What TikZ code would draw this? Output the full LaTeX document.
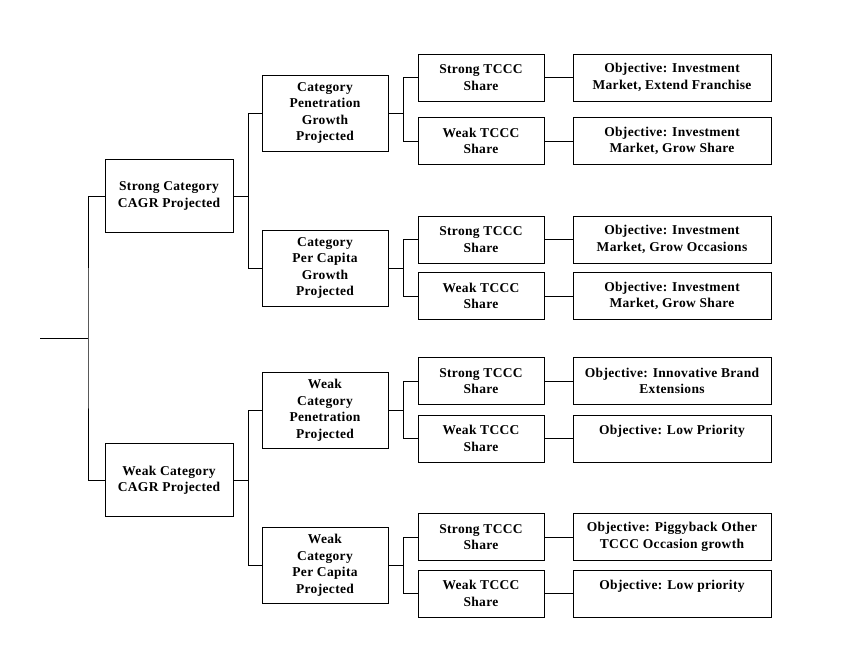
\documentclass[tikz,border=0pt]{standalone}
\usepackage{fontspec}
\setmainfont{Liberation Serif}[LetterSpace=2.5]
\begin{document}
\begin{tikzpicture}[x=1pt,y=-1pt,
	box/.style={draw,line width=1pt,align=center,inner sep=1pt,
		font=\bfseries\fontsize{13.5}{16.5}\selectfont},
	cat/.style={box,minimum width=128,minimum height=73},
	sub/.style={box,minimum width=126,minimum height=76},
	share/.style={box,minimum width=126,minimum height=47},
	goal/.style={box,minimum width=198,minimum height=47},
	link/.style={line width=1pt}]
	\useasboundingbox (0,0) rectangle (844,654);

	% level 1
	\node[cat] (s) at (169,196) {Strong Category\\CAGR Projected};
	\node[cat] (w) at (169,480) {Weak Category\\CAGR Projected};

	% level 2
	\node[sub] (sp) at (325,113) {Category\\Penetration\\Growth\\Projected};
	\node[sub] (sc) at (325,268) {Category\\Per Capita\\Growth\\Projected};
	\node[sub] (wp) at (325,410) {Weak\\Category\\Penetration\\Projected};
	\node[sub] (wc) at (325,565) {Weak\\Category\\Per Capita\\Projected};

	% level 3
	\node[share] (sp1) at (481,77.5) {Strong TCCC\\Share};
	\node[share] (sp2) at (481,141) {Weak TCCC\\Share};
	\node[share] (sc1) at (481,239.5) {Strong TCCC\\Share};
	\node[share] (sc2) at (481,296) {Weak TCCC\\Share};
	\node[share] (wp1) at (481,381) {Strong TCCC\\Share};
	\node[share] (wp2) at (481,438.5) {Weak TCCC\\Share};
	\node[share] (wc1) at (481,537) {Strong TCCC\\Share};
	\node[share] (wc2) at (481,593.5) {Weak TCCC\\Share};

	% level 4
	\node[goal] (gsp1) at (672,77.5) {Objective: Investment\\Market, Extend Franchise};
	\node[goal] (gsp2) at (672,141) {Objective: Investment\\Market, Grow Share};
	\node[goal] (gsc1) at (672,239.5) {Objective: Investment\\Market, Grow Occasions};
	\node[goal] (gsc2) at (672,296) {Objective: Investment\\Market, Grow Share};
	\node[goal] (gwp1) at (672,381) {Objective: Innovative Brand\\Extensions};
	\node[goal] (gwp2) at (672,438.5) {Objective: Low Priority\\\mbox{}};
	\node[goal] (gwc1) at (672,537) {Objective: Piggyback Other\\TCCC Occasion growth};
	\node[goal] (gwc2) at (672,593.5) {Objective: Low priority\\\mbox{}};

	% root
	\coordinate (root) at (40,338);
	\coordinate (j0) at (88,338);
	\draw[link] (root) -- (j0);
	\draw[link] (s.west) -| (j0) |- (w.west);

	% branches
	\foreach \p/\a/\b in {s/sp/sc, w/wp/wc, sp/sp1/sp2, sc/sc1/sc2, wp/wp1/wp2, wc/wc1/wc2} {
		\coordinate (j\p) at ([xshift=15]\p.east);
		\draw[link] (\p.east) -- (j\p);
		\draw[link] (\a.west) -| (j\p) |- (\b.west);
	}

	% leaves
	\foreach \n in {sp1,sp2,sc1,sc2,wp1,wp2,wc1,wc2}
		\draw[link] (\n.east) -- (g\n.west);
\end{tikzpicture}
\end{document}
